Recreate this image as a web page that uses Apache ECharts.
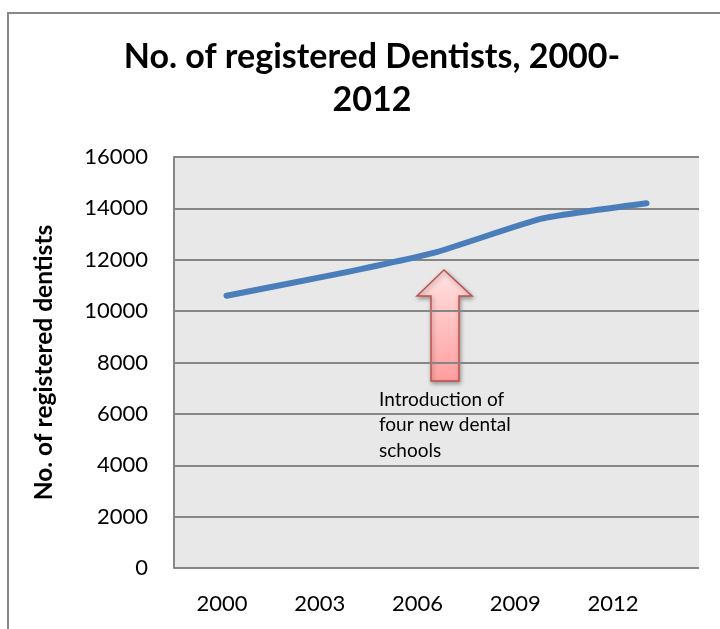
<!DOCTYPE html>
<html>
<head>
<meta charset="utf-8">
<script src="https://cdn.jsdelivr.net/npm/echarts@6/dist/echarts.min.js"></script>
<style>html,body{margin:0;padding:0;background:#fff}#c{width:720px;height:629px}</style>
</head>
<body>
<div id="c"></div>
<script>
var years = ['2000', '2003', '2006', '2009', '2012'];
var dentists = [10600, 11400, 12300, 13600, 14200];
var yTicks = { min: 0, max: 16000, interval: 2000 };
var titleText = 'No. of registered Dentists, 2000-\n2012';
var yName = 'No. of registered dentists';
var noteText = 'Introduction of\nfour new dental\nschools';

var FONT = 'Lato, "Open Sans", sans-serif';
var chart = echarts.init(document.getElementById('c'), null, { renderer: 'canvas' });
chart.setOption({
  animation: false,
  backgroundColor: '#ffffff',
  title: {
    text: titleText, left: 367, top: 31, textAlign: 'center',
    textStyle: { fontFamily: FONT, fontSize: 34, fontWeight: 'bold', color: '#000', lineHeight: 43 }
  },
  grid: [
    { left: 174, right: 21, top: 157, bottom: 61, show: true, backgroundColor: '#e8e8e8', borderWidth: 0 },
    { left: 173, right: 58, top: 157, bottom: 61, show: false }
  ],
  xAxis: [
    { type: 'category', gridIndex: 0, data: years, boundaryGap: true,
      axisLine: { show: false }, axisTick: { show: false }, axisLabel: { show: false } },
    { type: 'category', gridIndex: 1, data: years, boundaryGap: true,
      axisLine: { show: false }, axisTick: { show: false },
      axisLabel: { fontFamily: FONT, fontSize: 22, color: '#000', margin: 25 } }
  ],
  yAxis: [
    { type: 'value', gridIndex: 0, min: yTicks.min, max: yTicks.max, interval: yTicks.interval,
      name: yName, nameLocation: 'middle', nameGap: 117, nameRotate: 90,
      nameTextStyle: { fontFamily: FONT, fontSize: 24.5, fontWeight: 'bold', color: '#000' },
      axisLine: { show: true, lineStyle: { color: '#868686', width: 2 } },
      axisTick: { show: false },
      axisLabel: { fontFamily: FONT, fontSize: 22, color: '#000', margin: 26,
        formatter: function (v) { return String(v); } },
      splitLine: { show: true, lineStyle: { color: '#868686', width: 2 } } },
    { type: 'value', gridIndex: 1, min: 0, max: 16000, show: false }
  ],
  series: [{
    type: 'line', xAxisIndex: 0, yAxisIndex: 0, data: dentists,
    smooth: 0.15, symbol: 'none',
    lineStyle: { color: '#4a7ebb', width: 6, cap: 'round', join: 'round' }
  }],
  graphic: [
    { type: 'polyline', shape: { points: [[8, 629], [8, 13], [720, 13]] }, silent: true,
      style: { stroke: '#888888', lineWidth: 2, fill: null } },
    { type: 'polygon', silent: true,
      shape: { points: [[444, 270], [472, 296], [459, 296], [459, 381], [431, 381], [431, 296], [417, 296]] },
      style: {
        fill: new echarts.graphic.LinearGradient(0, 0, 0, 1, [
          { offset: 0, color: '#ffe2e2' }, { offset: 1, color: '#ff9e9e' }
        ]),
        stroke: '#c0504d', lineWidth: 1.5,
        shadowBlur: 4, shadowColor: 'rgba(0,0,0,0.35)', shadowOffsetX: 1, shadowOffsetY: 2
      } },
    { type: 'text', left: 379, top: 387, silent: true,
      style: { text: noteText, fontFamily: FONT, fontSize: 19, lineHeight: 25.5, fill: '#000' } }
  ]
});
</script>
</body>
</html>
